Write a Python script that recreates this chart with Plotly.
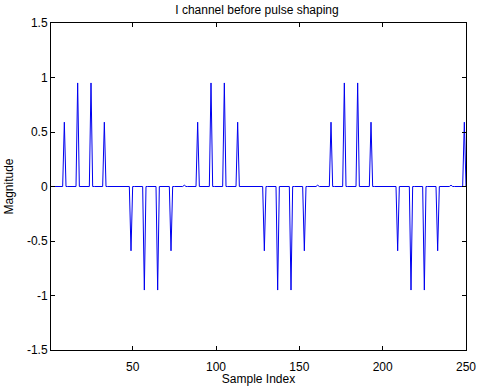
import numpy as np
import plotly.graph_objects as go

# Symbol values of the I channel (one per symbol period)
symbols = [0.0, 0.59, 0.95, 0.95, 0.59, 0.0, -0.59, -0.95, -0.95, -0.59,
           0.012, 0.59, 0.95, 0.95, 0.59, 0.0, -0.59, -0.95, -0.95, -0.59,
           0.012, 0.59, 0.95, 0.95, 0.59, 0.0, -0.59, -0.95, -0.95, -0.59,
           0.012, 0.59]
upsample_factor = 8
n_samples = 250

x_ticks = [50, 100, 150, 200, 250]
y_ticks = [-1.5, -1, -0.5, 0, 0.5, 1, 1.5]
y_tick_labels = ["-1.5", "-1", "-0.5", "0", "0.5", "1", "1.5"]

# Upsample (insert zeros between symbols) - "before pulse shaping"
signal = np.zeros(n_samples)
for k, s in enumerate(symbols):
    idx = k * upsample_factor
    if idx < n_samples:
        signal[idx] = s
sample_index = np.arange(1, n_samples + 1)

font = dict(family="Liberation Sans, Arial, sans-serif", size=12, color="black")

fig = go.Figure()
fig.add_trace(go.Scatter(x=sample_index, y=signal, mode="lines",
                         line=dict(color="#0000f0", width=1), showlegend=False,
                         hoverinfo="skip"))

axis_common = dict(showgrid=False, zeroline=False, showline=True, linecolor="black",
                   linewidth=1, mirror="ticks", ticks="inside", ticklen=4,
                   tickcolor="black", tickwidth=1, tickfont=font)

fig.update_layout(
    width=483, height=386,
    margin=dict(l=51, r=17, t=23, b=36),
    paper_bgcolor="white", plot_bgcolor="white",
    font=font,
    title=dict(text="I channel before pulse shaping", x=0.532, xanchor="center",
               y=1 - 9.5 / 386, yanchor="middle", yref="container",
               font=dict(family=font["family"], size=12, color="black")),
    xaxis=dict(range=[1, 250], tickvals=x_ticks, ticktext=[str(v) for v in x_ticks],
               ticklabelstandoff=6,
               title=dict(text="Sample Index", font=font, standoff=2), automargin=False,
               **axis_common),
    yaxis=dict(range=[-1.5, 1.5], tickvals=y_ticks, ticktext=y_tick_labels,
               title=dict(text="Magnitude", font=font, standoff=10), automargin=False,
               **axis_common),
)

fig.write_html("out.html", config={"displayModeBar": False},
               post_script="document.body.style.margin='0px';")
